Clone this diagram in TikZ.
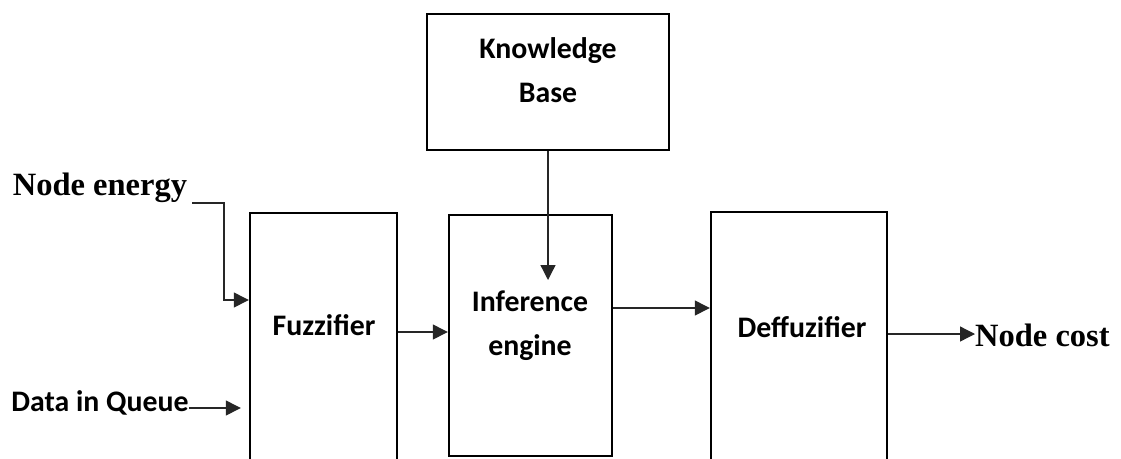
\documentclass[tikz,border=0pt]{standalone}
\usepackage{fontspec}
\setmainfont{Carlito}
\newfontfamily\timesfont{Liberation Serif}
\usepackage{tikz}
\usetikzlibrary{arrows.meta,positioning}
\tikzstyle{box} = [ rectangle, draw = black, line width = 2.4pt, inner sep = 0pt ]
\tikzstyle{boxtext} = [ font = \bfseries\fontsize{29.8}{44}\selectfont, %
                        align = center, inner sep = 0pt ]
\tikzstyle{intext} = [ font = \timesfont\bfseries\fontsize{32.5}{36}\selectfont, %
                       inner sep = 0pt ]
\tikzstyle{arrow} = [line width = 1.3pt, draw = black!85, %
                     -{Triangle[length=15pt,width=15pt]}]

\begin{document}
\begin{tikzpicture}[x = 1pt, y = -1pt]
      \clip (0,0) rectangle (1121,458);
      % Boxes
      \node (kb) [box, minimum width = 242pt, minimum height = 136pt] at (548,82) {};
      \node (fuzz) [box, minimum width = 147pt, minimum height = 258pt] at (323.5,342) {};
      \node (inf) [box, minimum width = 163pt, minimum height = 241pt] at (530.5,335.5) {};
      \node (defuzz) [box, minimum width = 176pt, minimum height = 258pt] at (799,341) {};
      % Texts
      \node (kbtext) [boxtext] at (548,70) {Knowledge\\Base};
      \node (fuzztext) [boxtext] at (324,325) {Fuzzifier};
      \node (inftext) [boxtext] at (530,326) {Inference\\engine};
      \node (defuzztext) [boxtext] at (802,327) {Deffuzifier};
      \node (energy) [intext] at (100,188) {Node energy};
      \node (queue) [boxtext] at (100,403) {Data in Queue};
      \node (cost) [intext, anchor = west] at (975,335) {Node cost};
      % Levels
      \coordinate (bend) at (224,300);
      \coordinate (qlevel) at (0,408);
      \coordinate (fuzzlevel) at (0,332);
      \coordinate (inflevel) at (0,308);
      \coordinate (costlevel) at (0,334);
      \coordinate (kbtip) at (548,280);
      % Arrows
      \draw [arrow] ([xshift=5pt]energy.south east) -| (bend) -- (fuzz.west |- bend);
      \draw [arrow] (queue.east |- qlevel) -- ([xshift=-8pt]fuzz.west |- qlevel);
      \draw [arrow] (kb.south) -- (kbtip);
      \draw [arrow] (fuzz.east |- fuzzlevel) -- (inf.west |- fuzzlevel);
      \draw [arrow] (inf.east |- inflevel) -- (defuzz.west |- inflevel);
      \draw [arrow] (defuzz.east |- costlevel) -- (cost.west |- costlevel);
\end{tikzpicture}
\end{document}
